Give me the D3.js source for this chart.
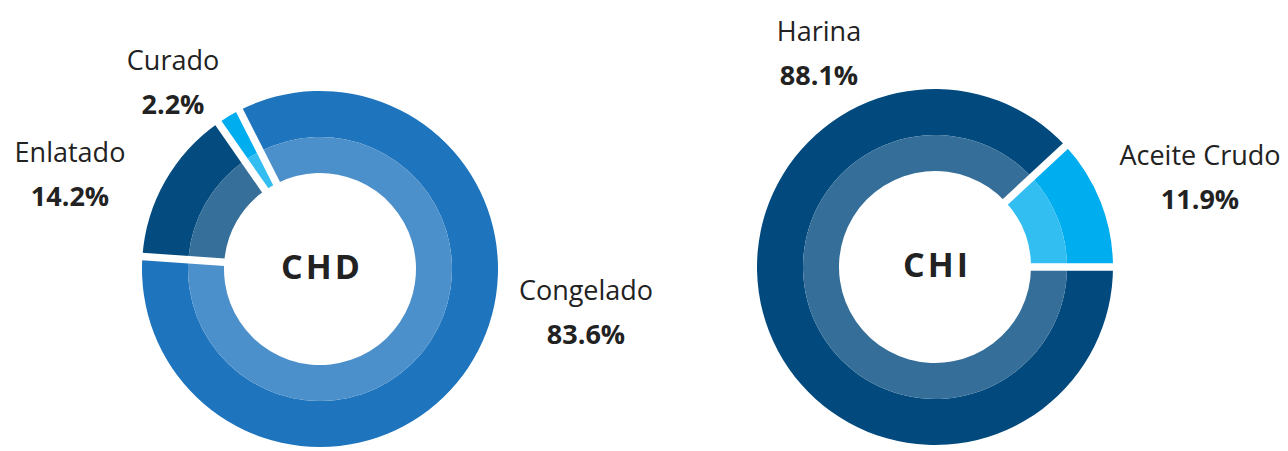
<!doctype html>
<html>
<head>
<script src="https://cdnjs.cloudflare.com/ajax/libs/d3/7.8.5/d3.min.js"></script>
<style>
body { margin: 0; background: #fff; }
text { font-family: "Open Sans", sans-serif; fill: #222; }
text.name { font-size: 27px; }
text.pct { font-size: 27px; font-weight: 700; }
text.center { font-size: 34px; font-weight: 700; letter-spacing: 3px; }
</style>
</head>
<body>
<svg id="chart" width="1288" height="451"></svg>
<script>
// CHD
var chdLabels = ["Congelado", "Enlatado", "Curado"];
var chdValues = [83.6, 14.2, 2.2];
// CHI
var chiLabels = ["Harina", "Aceite Crudo"];
var chiValues = [88.1, 11.9];

var donuts = [
  { title: "CHD", labels: chdLabels, values: chdValues,
    colors: ["#1e74bd", "#044b7f", "#00adee"],
    cx: 320, cy: 269, start: -0.47,
    labelPos: [[586, 300], [70, 162], [173, 70]] },
  { title: "CHI", labels: chiLabels, values: chiValues,
    colors: ["#024a7e", "#00aeef"],
    cx: 935, cy: 267, start: Math.PI / 2,
    labelPos: [[819, 41], [1200, 165]] }
]

var rHole = 96, rMid = 132, rOut = 178

var svg = d3.select("#chart")

donuts.forEach(function(d) {
  var pie = d3.pie().sort(null)
    .startAngle(d.start).endAngle(d.start + 2 * Math.PI)
  var slices = pie(d.values)

  var g = svg.append("g").attr("transform", "translate(" + d.cx + "," + d.cy + ")")

  var outer = d3.arc().innerRadius(rMid).outerRadius(rOut)
  var inner = d3.arc().innerRadius(rHole).outerRadius(rMid)

  g.selectAll("path.outer").data(slices).enter()
    .append("path").attr("class", "outer")
    .attr("d", outer)
    .attr("fill", (s, i) => d.colors[i])

  g.selectAll("path.inner").data(slices).enter()
    .append("path").attr("class", "inner")
    .attr("d", inner)
    .attr("fill", (s, i) => d3.interpolateRgb(d.colors[i], "#fff")(0.2))

  // white separators between slices
  g.selectAll("line.sep").data(slices).enter()
    .append("line").attr("class", "sep")
    .attr("x1", s => Math.sin(s.startAngle) * (rHole - 4))
    .attr("y1", s => -Math.cos(s.startAngle) * (rHole - 4))
    .attr("x2", s => Math.sin(s.startAngle) * (rOut + 4))
    .attr("y2", s => -Math.cos(s.startAngle) * (rOut + 4))
    .attr("stroke", "#fff")
    .attr("stroke-width", 7.5)

  g.append("text").attr("class", "center")
    .attr("text-anchor", "middle")
    .attr("x", 2).attr("y", 10)
    .text(d.title)

  d.labels.forEach(function(lab, i) {
    var p = d.labelPos[i]
    svg.append("text").attr("class", "name")
      .attr("text-anchor", "middle")
      .attr("x", p[0]).attr("y", p[1])
      .text(lab)
    svg.append("text").attr("class", "pct")
      .attr("text-anchor", "middle")
      .attr("x", p[0]).attr("y", p[1] + 44)
      .text(d.values[i].toFixed(1) + "%")
  })
})
</script>
</body>
</html>
